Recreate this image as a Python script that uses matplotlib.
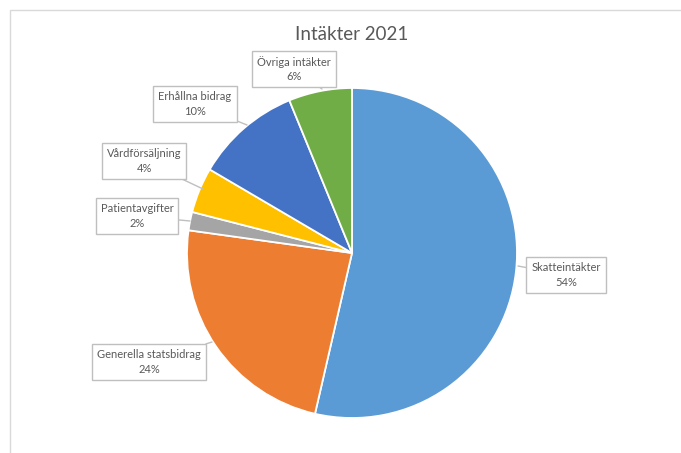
import matplotlib
matplotlib.use('Agg')
import matplotlib.pyplot as plt
from matplotlib.patches import Rectangle

# --- data (shares; labels are rounded) ---
categories = ['Skatteintäkter', 'Generella statsbidrag', 'Patientavgifter',
              'Vårdförsäljning', 'Erhållna bidrag', 'Övriga intäkter']
values = [53.6, 23.6, 1.8, 4.45, 10.35, 6.2]
colors = ['#5B9BD5', '#ED7D31', '#A5A5A5', '#FFC000', '#4472C4', '#70AD47']

plt.rcParams['font.family'] = ['Lato', 'DejaVu Sans']

W, H = 681, 453
fig = plt.figure(figsize=(W / 100, H / 100), dpi=100)

# light chart frame (cropped on right/bottom like the screenshot)
fig.patches.append(Rectangle((10 / W, -0.1), 1.2, 1 - 10 / H + 0.1,
                             transform=fig.transFigure, fill=False,
                             edgecolor='#D9D9D9', linewidth=1))

cx, cy, r = 352, 253, 165
ax = fig.add_axes([(cx - r) / W, (H - cy - r) / H, 2 * r / W, 2 * r / H])
ax.pie(values, colors=colors, startangle=90, counterclock=False, radius=1,
       wedgeprops=dict(edgecolor='white', linewidth=1.3))
ax.set_xlim(-1, 1)
ax.set_ylim(-1, 1)
ax.axis('off')

fig.text(352 / W, 1 - 35 / H, 'Intäkter 2021', ha='center', va='center',
         fontsize=13.5, color='#595959')


def px(p):
    return ((p[0] - cx) / r, (cy - p[1]) / r)


# label box centers and pointer targets (pixels)
label_pos = [(566, 275), (149, 362), (137, 216), (144, 161), (195, 104), (294, 69)]
point_pos = [(518, 266), (212, 342), (190, 221), (203, 189), (247, 125), (322, 89)]

total = sum(values)
for name, v, lp, pp in zip(categories, values, label_pos, point_pos):
    pct = round(100 * v / total)
    ax.annotate(f'{name}\n{pct}%', xy=px(pp), xytext=px(lp), xycoords='data',
                textcoords='data', ha='center', va='center', fontsize=8,
                color='#595959', linespacing=1.35, annotation_clip=False,
                bbox=dict(boxstyle='square,pad=0.45', fc='white', ec='#BFBFBF', lw=1),
                arrowprops=dict(arrowstyle='-', color='#BFBFBF', lw=1,
                                shrinkA=0, shrinkB=0))

fig.savefig('out.png', dpi=100)
